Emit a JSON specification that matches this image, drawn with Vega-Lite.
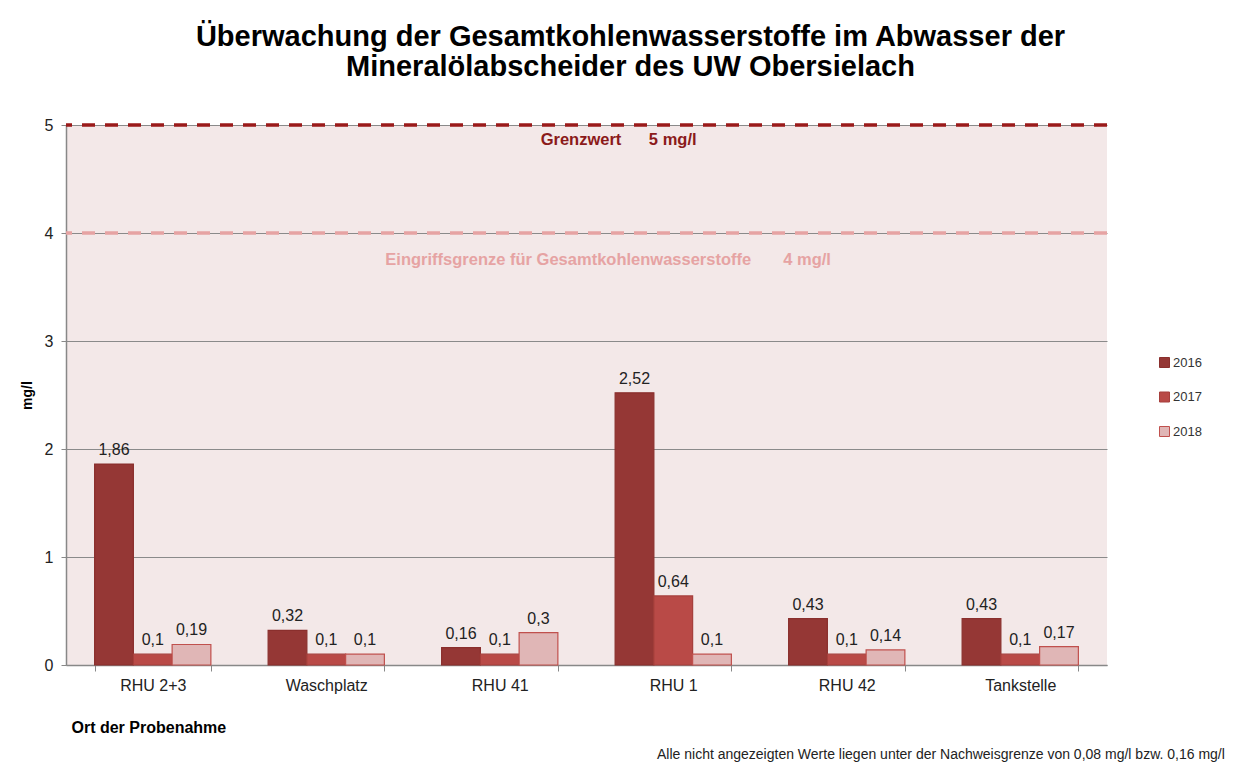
{
  "$schema": "https://vega.github.io/schema/vega-lite/v6.json",
  "width": 1041,
  "height": 540,
  "autosize": {"type": "none"},
  "padding": {"left": 66, "top": 125, "right": 143, "bottom": 108},
  "background": "white",
  "title": {
    "text": ["Überwachung der Gesamtkohlenwasserstoffe im Abwasser der", "Mineralölabscheider des UW Obersielach"],
    "font": "Liberation Sans",
    "fontSize": 29,
    "fontWeight": "bold",
    "lineHeight": 30,
    "color": "#000000",
    "anchor": "middle",
    "dx": 44,
    "offset": 35
  },
  "config": {
    "locale": {"number": {"decimal": ",", "thousands": ".", "grouping": [3], "currency": ["", " €"]}},
    "view": {"fill": "#F3E8E8", "stroke": null},
    "font": "Liberation Sans"
  },
  "layer": [
    {
      "data": {"values": [
        {"Ort": "RHU 2+3", "Jahr": "2016", "Wert": 1.86},
        {"Ort": "RHU 2+3", "Jahr": "2017", "Wert": 0.1},
        {"Ort": "RHU 2+3", "Jahr": "2018", "Wert": 0.19},
        {"Ort": "Waschplatz", "Jahr": "2016", "Wert": 0.32},
        {"Ort": "Waschplatz", "Jahr": "2017", "Wert": 0.1},
        {"Ort": "Waschplatz", "Jahr": "2018", "Wert": 0.1},
        {"Ort": "RHU 41", "Jahr": "2016", "Wert": 0.16},
        {"Ort": "RHU 41", "Jahr": "2017", "Wert": 0.1},
        {"Ort": "RHU 41", "Jahr": "2018", "Wert": 0.3},
        {"Ort": "RHU 1", "Jahr": "2016", "Wert": 2.52},
        {"Ort": "RHU 1", "Jahr": "2017", "Wert": 0.64},
        {"Ort": "RHU 1", "Jahr": "2018", "Wert": 0.1},
        {"Ort": "RHU 42", "Jahr": "2016", "Wert": 0.43},
        {"Ort": "RHU 42", "Jahr": "2017", "Wert": 0.1},
        {"Ort": "RHU 42", "Jahr": "2018", "Wert": 0.14},
        {"Ort": "Tankstelle", "Jahr": "2016", "Wert": 0.43},
        {"Ort": "Tankstelle", "Jahr": "2017", "Wert": 0.1},
        {"Ort": "Tankstelle", "Jahr": "2018", "Wert": 0.17}
      ]},
      "encoding": {
        "x": {
          "field": "Ort", "type": "nominal",
          "sort": ["RHU 2+3", "Waschplatz", "RHU 41", "RHU 1", "RHU 42", "Tankstelle"],
          "scale": {"domain": ["RHU 2+3", "Waschplatz", "RHU 41", "RHU 1", "RHU 42", "Tankstelle"], "paddingInner": 0.33, "paddingOuter": 0.165},
          "axis": {
            "title": "Ort der Probenahme",
            "titleFont": "Liberation Sans", "titleFontSize": 16, "titleFontWeight": "bold", "titleColor": "#000000",
            "titleAnchor": "start", "titleAlign": "left", "titleX": 5, "titleY": 62, "titleBaseline": "middle",
            "labelFont": "Liberation Sans", "labelFontSize": 16, "labelColor": "#222222", "labelAngle": 0, "labelPadding": 6,
            "tickBand": "extent", "tickSize": 6, "tickColor": "#888888", "domainColor": "#888888", "domainWidth": 1.5
          }
        },
        "xOffset": {"field": "Jahr", "type": "nominal", "scale": {"paddingInner": 0, "paddingOuter": 0}},
        "y": {
          "field": "Wert", "type": "quantitative",
          "scale": {"domain": [0, 5], "nice": false, "zero": true},
          "axis": {
            "title": "mg/l", "titleFont": "Liberation Sans", "titleFontSize": 14, "titleFontWeight": "bold", "titleColor": "#000000", "titlePadding": 10,
            "values": [0, 1, 2, 3, 4, 5], "format": "d",
            "labelFont": "Liberation Sans", "labelFontSize": 16, "labelColor": "#222222", "labelPadding": 8,
            "tickSize": 5, "tickColor": "#888888", "domainColor": "#888888", "domainWidth": 1.5,
            "grid": true, "gridColor": "#8a8a8a", "gridWidth": 1.2
          }
        }
      },
      "layer": [
        {
          "mark": {"type": "bar", "strokeWidth": 1.2},
          "encoding": {
            "color": {
              "field": "Jahr", "type": "nominal",
              "scale": {"domain": ["2016", "2017", "2018"], "range": ["#953735", "#B94A47", "#E0B6B6"]},
              "legend": {
                "title": null, "orient": "none", "legendX": 1092, "legendY": 231,
                "labelFont": "Liberation Sans", "labelFontSize": 13, "labelColor": "#333333",
                "symbolType": "square", "symbolSize": 100, "symbolStrokeWidth": 1, "rowPadding": 19.5, "labelOffset": 2
              }
            },
            "stroke": {
              "field": "Jahr", "type": "nominal",
              "scale": {"domain": ["2016", "2017", "2018"], "range": ["#8A2F2D", "#A63F3C", "#C0504D"]},
              "legend": {
                "title": null, "orient": "none", "legendX": 1092, "legendY": 231,
                "labelFont": "Liberation Sans", "labelFontSize": 13, "labelColor": "#333333",
                "symbolType": "square", "symbolSize": 100, "symbolStrokeWidth": 1, "rowPadding": 19.5, "labelOffset": 2
              }
            }
          }
        },
        {
          "mark": {"type": "text", "baseline": "alphabetic", "dy": -9, "fontSize": 16, "font": "Liberation Sans", "color": "#222222"},
          "encoding": {
            "text": {"field": "Wert", "type": "quantitative", "format": ".2~f"}
          }
        }
      ]
    },
    {
      "data": {"values": [{"y": 5}]},
      "mark": {"type": "rule", "color": "#9A1A1A", "strokeWidth": 3.5, "strokeDash": [13, 10]},
      "encoding": {"y": {"field": "y", "type": "quantitative"}}
    },
    {
      "data": {"values": [{"y": 4}]},
      "mark": {"type": "rule", "color": "#E6A3A3", "strokeWidth": 3.5, "strokeDash": [13, 10]},
      "encoding": {"y": {"field": "y", "type": "quantitative"}}
    },
    {
      "data": {"values": [{"y": 5, "Ort": "RHU 1", "label": "Grenzwert\u00a0\u00a0\u00a0\u00a0\u00a0\u00a05 mg/l"}]},
      "mark": {"type": "text", "align": "center", "baseline": "alphabetic", "dy": 20, "fontSize": 16.5, "fontWeight": "bold", "color": "#8B1A1A", "font": "Liberation Sans"},
      "encoding": {
        "x": {"field": "Ort", "type": "nominal", "bandPosition": 0.03},
        "y": {"field": "y", "type": "quantitative"},
        "text": {"field": "label"}
      }
    },
    {
      "data": {"values": [{"y": 4, "Ort": "RHU 1", "label": "Eingriffsgrenze für Gesamtkohlenwasserstoffe\u00a0\u00a0\u00a0\u00a0\u00a0\u00a0\u00a04 mg/l"}]},
      "mark": {"type": "text", "align": "center", "baseline": "alphabetic", "dy": 32, "fontSize": 16.5, "fontWeight": "bold", "color": "#E6A3A3", "font": "Liberation Sans"},
      "encoding": {
        "x": {"field": "Ort", "type": "nominal", "bandPosition": -0.06},
        "y": {"field": "y", "type": "quantitative"},
        "text": {"field": "label"}
      }
    },
    {
      "data": {"values": [{"y": -0.83, "Ort": "Tankstelle", "label": "Alle nicht angezeigten  Werte liegen  unter der Nachweisgrenze  von  0,08 mg/l  bzw.  0,16 mg/l"}]},
      "mark": {"type": "text", "align": "right", "baseline": "middle", "fontSize": 14, "color": "#222222", "font": "Liberation Sans"},
      "encoding": {
        "x": {"field": "Ort", "type": "nominal", "bandPosition": 2.26},
        "y": {"field": "y", "type": "quantitative"},
        "text": {"field": "label"}
      }
    }
  ]
}
